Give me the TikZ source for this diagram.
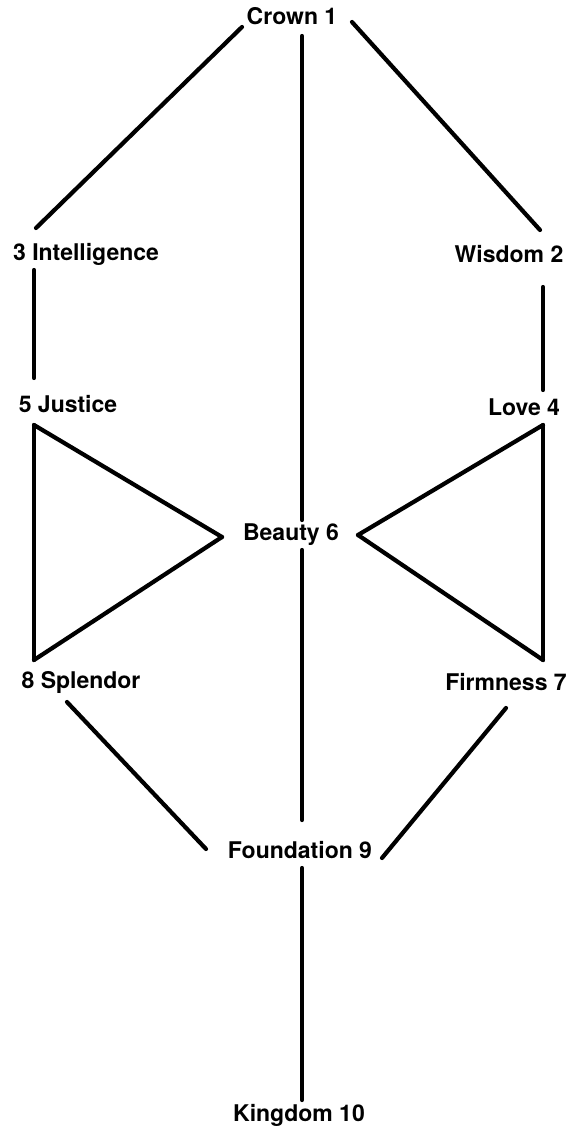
\documentclass[tikz,border=0pt]{standalone}
\usepackage{fontspec}
\setmainfont{TeX Gyre Heros}
\begin{document}
\begin{tikzpicture}[x=0.5pt,y=-0.5pt,
  lab/.style={inner sep=0pt,font=\fontsize{11.5}{13}\selectfont\bfseries},
  conn/.style={line width=2.1pt,line cap=round}]
\useasboundingbox (0,0) rectangle (568,1135);
\node[lab] (crown) at (292,16) {Crown 1};
\node[lab] (wisdom) at (509,254) {Wisdom 2};
\node[lab] (intel) at (86,254) {3 Intelligence};
\node[lab] (love) at (524,407) {Love 4};
\node[lab] (justice) at (68,404) {5 Justice};
\node[lab] (beauty) at (291,535) {Beauty 6};
\node[lab] (firm) at (506,682) {Firmness 7};
\node[lab] (splendor) at (81,682) {8 Splendor};
\node[lab] (found) at (300,850) {Foundation 9};
\node[lab] (kingdom) at (299,1115) {Kingdom 10};
\coordinate (apexL) at (222,537);
\coordinate (apexR) at (358,535);
% Crown connections
\draw[conn] ([shift={(-50,11)}]crown.center) -- ([shift={(-50,-26)}]intel.center);
\draw[conn] ([shift={(60,6)}]crown.center) -- ([shift={(31,-24)}]wisdom.center);
\draw[conn] ([shift={(10,20)}]crown.center) -- ([shift={(11,-15)}]beauty.center);
% pillars
\draw[conn] ([shift={(-52,16)}]intel.center) -- ([shift={(-34,-26)}]justice.center);
\draw[conn] ([shift={(34,33)}]wisdom.center) -- ([shift={(19,-17)}]love.center);
% left triangle
\draw[conn] ([shift={(-34,21)}]justice.center) -- ([shift={(-47,-22)}]splendor.center);
\draw[conn] ([shift={(-34,21)}]justice.center) -- (apexL);
\draw[conn] ([shift={(-47,-22)}]splendor.center) -- (apexL);
% right triangle
\draw[conn] ([shift={(19,18)}]love.center) -- ([shift={(37,-22)}]firm.center);
\draw[conn] ([shift={(19,18)}]love.center) -- (apexR);
\draw[conn] ([shift={(37,-22)}]firm.center) -- (apexR);
% to foundation
\draw[conn] ([shift={(-14,20)}]splendor.center) -- ([shift={(-94,-1)}]found.center);
\draw[conn] ([shift={(0,26)}]firm.center) -- ([shift={(82,8)}]found.center);
\draw[conn] ([shift={(11,15)}]beauty.center) -- ([shift={(2,-30)}]found.center);
\draw[conn] ([shift={(2,18)}]found.center) -- ([shift={(3,-15)}]kingdom.center);
\end{tikzpicture}
\end{document}
